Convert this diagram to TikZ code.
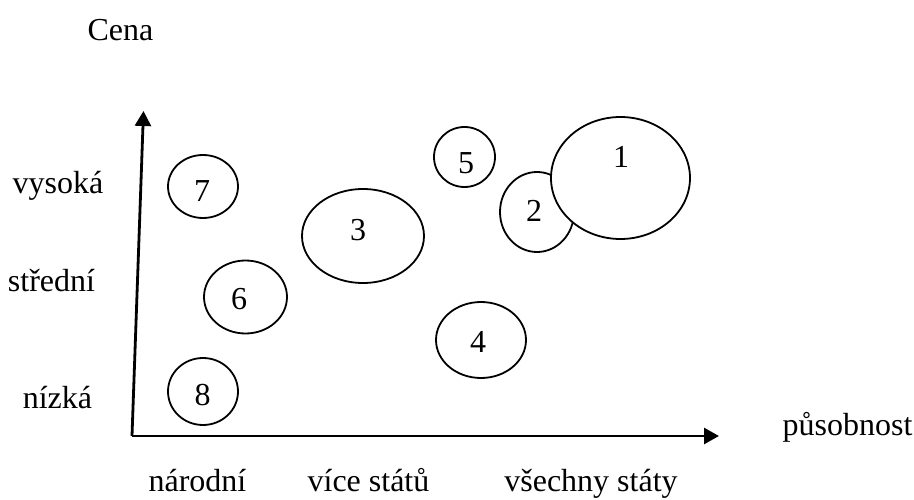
\documentclass[tikz,border=0pt]{standalone}
\usepackage{fontspec}
\setmainfont{Liberation Serif}
\usetikzlibrary{shapes.geometric,arrows.meta}

\tikzset{
  bubble/.style={ellipse, draw=black, line width=1.8pt, fill=white, inner sep=0pt},
  num/.style={inner sep=0pt, anchor=center, font=\fontsize{32}{38}\selectfont},
  axislabel/.style={inner sep=0pt, anchor=base, font=\fontsize{32}{38}\selectfont},
  axis/.style={line width=2.8pt, -{Triangle[length=15pt,width=16pt]}}
}

\begin{document}
\begin{tikzpicture}[x=1pt, y=-1pt]
  \useasboundingbox (0,0) rectangle (914,500);

  % axes
  \coordinate (o) at (132,436);
  \coordinate (ytip) at (143.5,111);
  \coordinate (xtip) at (719,436);
  \draw[axis] (o) -- (ytip);
  \draw[axis] (o) -- (xtip);

  % axis titles
  \node[axislabel] (cena) at (120.5,41) {Cena};
  \node[axislabel] (pusobnost) at (847.5,435) {působnost};

  % price levels
  \node[axislabel] (vysoka) at (58,194) {vysoká};
  \node[axislabel] (stredni) at (51.5,291) {střední};
  \node[axislabel] (nizka) at (57.5,408) {nízká};

  % reach levels
  \node[axislabel] (narodni) at (197.5,491) {národní};
  \node[axislabel] (vice) at (368.5,491) {více států};
  \node[axislabel] (vsechny) at (591,491) {všechny státy};

  % bubbles (2 first, so 1 lies over it)
  \node[bubble, minimum width=74pt, minimum height=80pt] (e2) at (537,212) {};
  \node[bubble, minimum width=139pt, minimum height=122pt] (e1) at (620.5,178) {};
  \node[bubble, minimum width=122pt, minimum height=94pt] (e3) at (363,236) {};
  \node[bubble, minimum width=90pt, minimum height=76pt] (e4) at (481,340) {};
  \node[bubble, minimum width=61pt, minimum height=60pt] (e5) at (464.5,157) {};
  \node[bubble, minimum width=83pt, minimum height=73pt] (e6) at (245.5,297) {};
  \node[bubble, minimum width=70pt, minimum height=63pt] (e7) at (203,186.5) {};
  \node[bubble, minimum width=70pt, minimum height=67pt] (e8) at (203,391.5) {};

  % bubble numbers
  \node[num] (n1) at (621,157) {1};
  \node[num] (n2) at (534,211) {2};
  \node[num] (n3) at (358,230) {3};
  \node[num] (n4) at (478,342) {4};
  \node[num] (n5) at (466,163) {5};
  \node[num] (n6) at (239,299) {6};
  \node[num] (n7) at (202,191) {7};
  \node[num] (n8) at (202.5,395) {8};
\end{tikzpicture}
\end{document}
